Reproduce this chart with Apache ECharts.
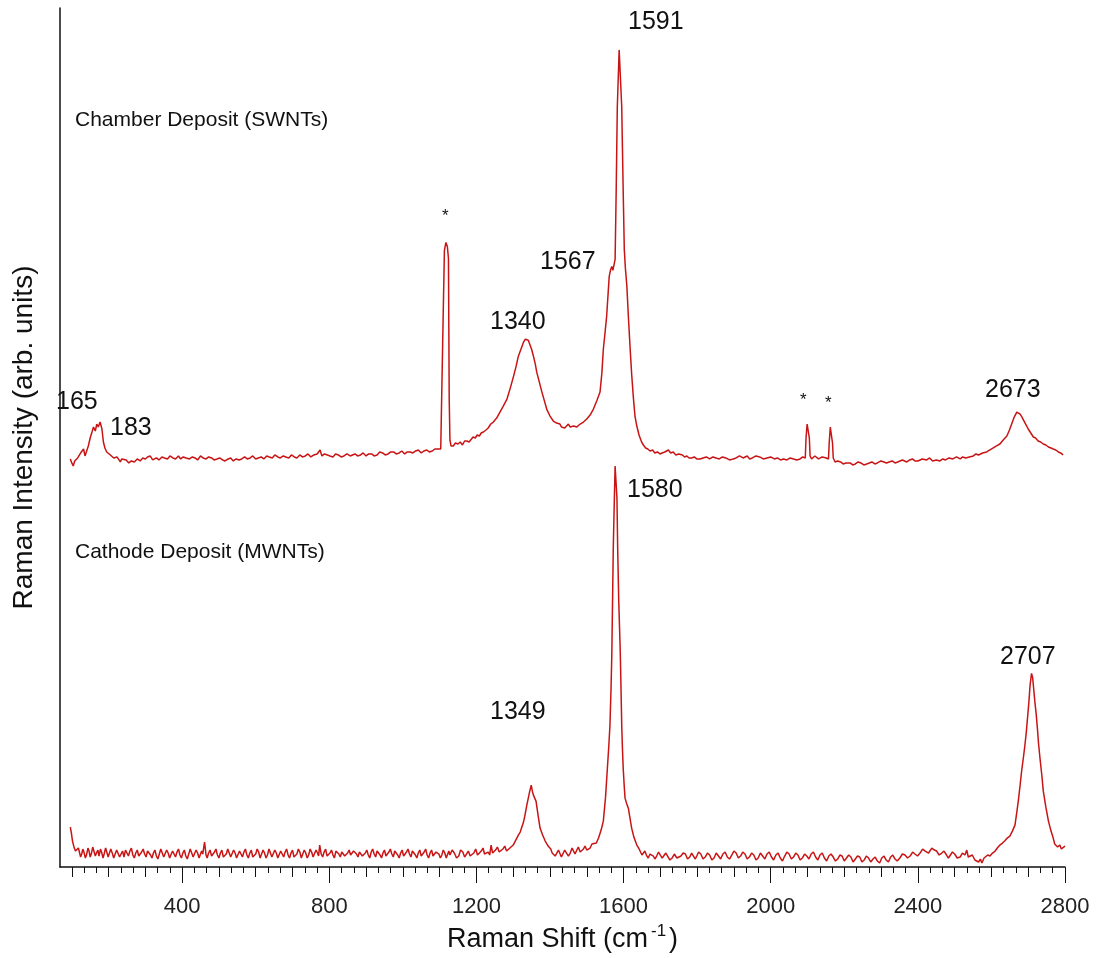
<!DOCTYPE html>
<html>
<head>
<meta charset="utf-8">
<title>Raman spectra - chamber vs cathode deposit</title>
<script src="https://cdn.jsdelivr.net/npm/echarts@6/dist/echarts.min.js"></script>
<style>
html, body { margin: 0; padding: 0; background: #fff; }
#chart { width: 1097px; height: 958px; }
</style>
</head>
<body>
<div id="chart"></div>
<script>
// x range of the shift axis (cm-1)
var xMin = 68;
var xMax = 2800;
var majorTicks = [400, 800, 1200, 1600, 2000, 2400, 2800];

// Chamber deposit (SWNTs), offset upward; [shift, intensity]
var swntData = [
  [96,409],[100,405],[104,402],[108,407],[112,405],[116,410],[120,412],[126,416],[132,419],[136,412],[141,414],[145,422],[150,430],[155,436],[159,441],[164,437],[168,444],[172,441],[177,446],[182,439],[186,426],[190,420],[195,416],[200,417],[205,413],[210,414],[214,410],[218,412],[223,411],[228,409],[232,406],[236,409],[240,407],[248,408],[255,405],[262,407],[270,406],[278,409],[286,407],[293,410],[300,409],[306,411],[313,412],[320,408],[330,410],[337,408],[345,411],[352,410],[360,409],[367,412],[375,410],[382,409],[390,412],[396,409],[403,411],[411,410],[420,409],[428,411],[435,410],[442,408],[450,412],[457,410],[465,409],[472,411],[480,410],[487,408],[495,409],[502,410],[510,408],[517,407],[525,409],[532,410],[539,407],[547,409],[555,408],[562,409],[570,411],[577,409],[585,410],[592,412],[600,409],[607,410],[615,411],[622,409],[630,412],[637,411],[645,410],[652,413],[660,411],[667,410],[675,412],[682,411],[690,410],[697,413],[705,411],[712,410],[720,413],[727,411],[735,412],[742,414],[750,411],[758,413],[767,414],[771,412],[775,418],[780,412],[787,414],[795,413],[802,412],[810,411],[817,414],[825,413],[832,411],[840,412],[848,414],[857,412],[863,413],[870,414],[877,412],[885,413],[892,415],[900,412],[907,414],[915,414],[922,412],[930,413],[937,416],[945,415],[952,413],[960,414],[967,416],[975,416],[982,414],[990,415],[997,417],[1005,414],[1012,416],[1020,416],[1027,415],[1035,417],[1042,418],[1050,415],[1057,417],[1065,418],[1072,416],[1080,417],[1087,419],[1095,419],[1103,419],[1108,421],
  [1110,560],[1113,618],[1117,626],[1121,622],[1124,610],[1126,470],[1128,428],[1131,422],[1137,422],[1143,425],[1150,424],[1156,426],[1162,423],[1168,427],[1174,427],[1180,426],[1185,428],[1191,431],[1197,430],[1202,433],[1208,432],[1213,435],[1219,436],[1226,438],[1232,440],[1239,444],[1246,446],[1255,450],[1264,456],[1273,462],[1283,469],[1292,480],[1301,492],[1308,502],[1314,512],[1321,519],[1328,526],[1333,529],[1337,529],[1341,528],[1346,526],[1350,519],[1355,512],[1360,504],[1364,496],[1371,486],[1378,476],[1385,467],[1391,459],[1400,452],[1409,447],[1418,445],[1427,444],[1431,441],[1436,443],[1440,440],[1445,442],[1450,444],[1455,441],[1460,439],[1464,442],[1468,440],[1473,441],[1478,443],[1482,444],[1491,446],[1500,449],[1509,453],[1518,459],[1527,467],[1536,476],[1541,495],[1545,519],[1550,537],[1554,552],[1558,575],[1561,592],[1565,599],[1568,602],[1571,598],[1574,596],[1577,609],[1580,679],[1583,762],[1588,819],[1592,819],[1595,762],[1599,677],[1602,619],[1605,600],[1609,582],[1613,552],[1618,519],[1622,494],[1627,469],[1631,452],[1636,442],[1642,433],[1649,426],[1654,423],[1660,420],[1666,419],[1672,417],[1679,418],[1685,415],[1692,416],[1699,414],[1705,415],[1712,416],[1717,414],[1722,418],[1728,415],[1735,416],[1742,413],[1750,414],[1755,412],[1760,413],[1766,411],[1772,412],[1778,410],[1785,410],[1792,411],[1799,409],
  [1808,409],[1816,410],[1825,411],[1834,409],[1843,411],[1851,410],[1860,409],[1869,411],[1878,410],[1888,408],[1898,409],[1906,410],[1915,412],[1925,410],[1936,412],[1943,409],[1950,410],[1960,412],[1970,411],[1980,409],[1990,410],[2000,411],[2010,409],[2018,410],[2027,408],[2035,409],[2044,408],[2053,410],[2062,409],[2071,408],[2080,409],[2087,411],[2094,410],[2096,430],[2099,444],[2102,443],[2105,430],[2107,412],[2111,409],[2115,410],[2120,412],[2125,411],[2130,409],[2134,410],[2140,411],[2145,409],[2151,410],[2157,409],[2159,425],[2162,441],[2165,439],[2168,425],[2170,410],[2175,406],[2182,407],[2190,406],[2197,404],[2205,405],[2210,407],[2216,405],[2223,403],[2230,404],[2238,406],[2245,405],[2253,403],[2261,404],[2268,405],[2275,406],[2283,404],[2290,405],[2300,407],[2315,405],[2322,406],[2330,407],[2338,405],[2345,406],[2358,408],[2370,406],[2378,408],[2385,409],[2392,407],[2400,407],[2412,409],[2424,408],[2432,410],[2440,407],[2450,408],[2460,407],[2468,409],[2475,408],[2485,410],[2495,409],[2505,411],[2515,409],[2522,411],[2530,410],[2540,411],[2551,412],[2558,414],[2565,413],[2576,415],[2587,416],[2596,418],[2605,420],[2614,422],[2623,424],[2632,428],[2642,432],[2649,438],[2655,444],[2662,451],[2669,456],[2674,456],[2678,454],[2683,451],[2687,449],[2693,444],[2700,439],[2707,435],[2714,431],[2720,430],[2727,427],[2734,426],[2741,424],[2748,423],[2755,421],[2762,420],[2768,419],[2775,418],[2782,416],[2788,415],[2795,413]
];

// Cathode deposit (MWNTs); [shift, intensity]
var mwntData = [
  [96,40],[99,34],[102,26],[106,20],[110,16],[115,14],[118,19],[121,17],[124,10],[127,13],[130,18],[133,15],[137,9],[140,12],[144,19],[147,16],[150,10],[153,13],[157,20],[160,18],[164,11],[167,14],[171,17],[174,11],[178,18],[181,15],[185,9],[188,13],[192,19],[195,17],[199,10],[202,12],[206,18],[210,14],[214,9],[218,11],[222,17],[226,15],[230,10],[234,13],[238,16],[242,10],[246,17],[250,14],[254,11],[258,16],[262,19],[266,12],[270,9],[274,14],[278,17],[282,11],[286,9],[290,15],[294,18],[298,13],[302,10],[306,16],[310,18],[314,12],[318,9],[322,14],[326,17],[330,11],[334,8],[338,13],[342,18],[346,16],[350,10],[354,12],[358,17],[362,14],[366,9],[370,10],[374,16],[378,13],[382,10],[386,15],[390,18],[394,12],[398,9],[402,14],[406,17],[410,11],[414,8],[418,13],[422,18],[426,16],[430,10],[434,12],[438,17],[442,14],[446,9],[450,11],[453,16],[456,13],[461,25],[465,12],[468,9],[472,14],[476,17],[480,11],[484,9],[488,15],[492,18],[496,12],[500,9],[504,14],[508,17],[512,10],[516,8],[520,13],[524,18],[528,16],[532,10],[536,12],[540,17],[544,14],[548,9],[552,11],[556,16],[560,13],[564,10],[568,15],[572,18],[576,12],[580,9],[584,14],[588,17],[592,10],[596,8],[600,13],[604,18],[608,15],[612,9],[616,11],[620,17],[624,14],[628,9],[632,12],[636,18],[640,16],[644,10],[648,12],[652,17],[656,14],[660,9],[664,11],[668,16],[672,13],[676,10],[680,15],[684,18],[688,12],[692,9],[696,14],[700,17],[704,10],[708,8],[712,13],[716,18],[720,15],[724,9],[728,11],[732,17],[736,14],[740,9],[744,12],[748,18],[752,15],[756,10],[760,12],[764,17],[768,14],[771,11],[774,22],[778,13],[782,10],[786,15],[790,18],[794,11],[798,9],[802,14],[806,17],[810,12],[814,9],[818,16],[822,18],[826,13],[830,10],[834,15],[838,17],[842,11],[846,9],[850,14],[854,17],[858,12],[862,10],[866,16],[870,18],[874,13],[878,10],[882,15],[886,17],[890,11],[894,9],[898,14],[902,17],[906,12],[910,9],[914,15],[918,18],[922,13],[926,10],[930,16],[934,18],[938,12],[942,9],[946,14],[950,17],[954,11],[958,9],[962,15],[966,18],[970,13],[974,10],[978,16],[982,18],[986,12],[990,9],[994,14],[998,17],[1002,11],[1006,9],[1010,15],[1014,18],[1018,13],[1022,10],[1026,16],[1030,18],[1034,12],[1038,9],[1042,14],[1046,17],[1050,11],[1054,9],[1058,15],[1062,18],[1066,12],[1070,9],[1074,14],[1078,17],[1082,11],[1086,9],[1090,15],[1094,17],[1098,13],[1102,9],[1106,12],[1110,17],[1114,14],[1118,9],[1121,11],[1125,16],[1128,12],[1134,17],[1140,14],[1146,9],[1152,11],[1157,17],[1163,15],[1168,10],[1173,12],[1178,16],[1183,11],[1188,9],[1193,14],[1198,18],[1203,12],[1208,10],[1213,16],[1218,19],[1222,13],[1227,11],[1232,15],[1236,12],[1240,22],[1244,14],[1248,12],[1252,17],[1257,20],[1262,15],[1267,13],[1272,18],[1277,21],[1282,16],[1286,14],[1291,19],
  [1300,22],[1307,27],[1314,32],[1319,35],[1323,36],[1328,45],[1332,52],[1337,62],[1341,69],[1345,76],[1349,82],[1352,76],[1355,72],[1358,73],[1362,66],[1366,56],[1370,46],[1373,39],[1380,32],[1387,26],[1395,21],[1402,18],[1406,14],[1409,16],[1414,11],[1418,13],[1423,17],[1427,15],[1431,10],[1436,12],[1440,17],[1445,16],[1450,11],[1455,14],[1460,19],[1464,18],[1468,13],[1473,17],[1477,20],[1482,15],[1486,13],[1491,18],[1495,21],[1500,17],[1505,15],[1509,19],[1514,23],[1518,21],[1526,24],[1532,29],[1539,37],[1545,46],[1551,70],[1556,99],[1560,122],[1563,142],[1566,180],[1568,212],[1570,265],[1572,319],[1575,370],[1577,402],[1580,402],[1582,370],[1584,319],[1587,265],[1591,216],[1593,180],[1595,142],[1597,118],[1599,99],[1602,80],[1604,69],[1608,64],[1613,59],[1617,50],[1622,39],[1628,30],[1636,22],[1641,19],[1645,17],[1650,12],[1654,14],[1658,16],[1662,12],[1667,9],[1672,13],[1676,15],[1681,11],[1685,8],[1690,11],[1695,15],[1700,13],[1705,9],[1710,10],[1715,14],[1720,12],[1726,7],[1732,9],[1738,13],[1745,9],[1750,7],[1756,11],[1762,14],[1768,13],[1774,8],[1780,10],[1785,14],[1790,12],[1795,8],[1799,11],
  [1804,15],[1810,13],[1816,8],[1822,10],[1828,14],[1834,12],[1840,7],[1846,9],[1852,14],[1858,11],[1864,8],[1870,13],[1876,15],[1882,10],[1888,8],[1894,12],[1900,16],[1906,14],[1912,9],[1918,11],[1924,15],[1930,13],[1936,8],[1942,10],[1948,14],[1954,12],[1960,7],[1966,9],[1972,14],[1978,11],[1984,8],[1990,13],[1996,15],[2002,10],[2008,7],[2014,12],[2020,14],[2026,9],[2032,6],[2038,11],[2044,15],[2050,13],[2056,8],[2062,10],[2068,14],[2074,12],[2080,7],[2086,9],[2092,13],[2098,11],[2104,8],[2110,13],[2116,15],[2122,10],[2128,7],[2134,12],[2140,14],[2146,9],[2152,6],[2158,11],[2164,13],[2170,10],[2176,6],[2182,8],[2188,12],[2194,11],[2200,6],[2206,9],[2212,12],[2218,10],[2224,5],[2230,8],[2236,11],[2242,10],[2248,5],[2254,7],[2260,11],[2266,9],[2272,5],[2278,8],[2284,10],[2290,6],[2296,4],[2302,9],[2308,11],[2314,7],[2320,5],[2326,10],[2332,12],[2338,8],[2344,6],[2351,9],[2358,13],[2365,12],[2372,9],[2379,11],[2386,15],[2392,13],[2399,11],[2406,14],[2413,18],[2420,16],[2429,14],[2438,19],[2445,17],[2451,16],[2458,12],[2465,14],[2471,16],[2478,12],[2483,9],[2487,11],[2494,15],[2500,13],[2507,9],[2515,10],[2521,14],[2528,12],[2533,17],[2537,10],[2542,9],[2548,12],[2555,7],[2560,9],[2565,5],[2570,8],[2574,4],[2580,9],[2585,8],[2590,12],[2596,11],[2603,14],[2610,16],[2616,19],[2623,22],[2630,24],[2636,26],[2643,29],[2650,31],[2657,36],[2664,42],[2669,55],[2673,66],[2678,82],[2682,96],[2687,110],[2691,122],[2695,136],[2698,149],[2702,166],[2705,182],[2709,194],[2712,190],[2714,189],[2718,166],[2722,152],[2725,139],[2728,124],[2732,109],[2737,92],[2741,76],[2748,60],[2755,46],[2762,36],[2768,29],[2772,23],[2775,25],[2780,20],[2786,22],[2790,18],[2793,20],[2800,21]
];

// medium ticks every 100, minor every 100/3
var midTicks = [];
var minorTicks = [];
for (var t = 100; t <= xMax; t += 100) {
  midTicks.push(t);
  if (t < xMax) {
    minorTicks.push(t + 100 / 3, t + 200 / 3);
  }
}

var FONT = '"Liberation Sans", Arial, sans-serif';

function label(s, x, y, size) {
  return {
    type: 'text',
    x: x,
    y: y,
    style: {
      text: s,
      fontFamily: FONT,
      fontSize: size,
      fill: '#111',
      verticalAlign: 'middle'
    },
    z: 100
  };
}

var chart = echarts.init(document.getElementById('chart'));

var baseAxis = {
  type: 'value',
  position: 'bottom',
  min: xMin,
  max: xMax,
  splitLine: { show: false },
  axisLine: { show: false },
  axisLabel: { show: false },
  axisTick: { show: true, inside: false, lineStyle: { color: '#111', width: 1 } }
};

var option = {
  animation: false,
  backgroundColor: '#fff',
  grid: { left: 60, right: 32, top: 8, bottom: 89, containLabel: false },
  xAxis: [
    {
      type: 'value',
      position: 'bottom',
      min: xMin,
      max: xMax,
      splitLine: { show: false },
      axisLine: { show: true, onZero: false, lineStyle: { color: '#111', width: 1.5 } },
      axisTick: { show: true, length: 16, customValues: majorTicks, lineStyle: { color: '#111', width: 1 } },
      axisLabel: {
        show: true,
        customValues: majorTicks,
        formatter: function (v) { return String(v); },
        margin: 29,
        color: '#222',
        fontFamily: FONT,
        fontSize: 22
      },
      name: 'Raman Shift (cm{sup|-1}{b|)}',
      nameLocation: 'middle',
      nameGap: 56,
      nameTextStyle: {
        color: '#111',
        fontFamily: FONT,
        fontSize: 27,
        rich: {
          sup: { fontFamily: FONT, fontSize: 17, color: '#111', verticalAlign: 'top', padding: [0, 3, 16, 3] },
          b: { fontFamily: FONT, fontSize: 27, color: '#111' }
        }
      }
    },
    Object.assign({}, baseAxis, {
      axisTick: { show: true, length: 10, customValues: midTicks, lineStyle: { color: '#111', width: 1 } }
    }),
    Object.assign({}, baseAxis, {
      axisTick: { show: true, length: 6, customValues: minorTicks, lineStyle: { color: '#111', width: 1 } }
    })
  ],
  yAxis: {
    type: 'value',
    min: 0,
    max: 861,
    splitLine: { show: false },
    axisLine: { show: true, onZero: false, lineStyle: { color: '#111', width: 1.5 } },
    axisTick: { show: false },
    axisLabel: { show: false },
    name: 'Raman Intensity (arb. units)',
    nameLocation: 'middle',
    nameRotate: 90,
    nameGap: 22,
    nameTextStyle: { color: '#111', fontFamily: FONT, fontSize: 28 }
  },
  series: [
    {
      name: 'Chamber Deposit (SWNTs)',
      type: 'line',
      data: swntData,
      showSymbol: false,
      symbol: 'none',
      lineStyle: { color: '#c81414', width: 1.5 }
    },
    {
      name: 'Cathode Deposit (MWNTs)',
      type: 'line',
      data: mwntData,
      showSymbol: false,
      symbol: 'none',
      lineStyle: { color: '#c81414', width: 1.5 }
    }
  ],
  graphic: [
    label('1591', 628, 22, 25),
    label('Chamber Deposit (SWNTs)', 75, 120, 21),
    label('*', 442, 216, 17),
    label('1567', 540, 262, 25),
    label('1340', 490, 322, 25),
    label('165', 56, 402, 25),
    label('183', 110, 428, 25),
    label('*', 800, 400, 17),
    label('*', 825, 403, 17),
    label('2673', 985, 390, 25),
    label('1580', 627, 490, 25),
    label('Cathode Deposit (MWNTs)', 75, 552, 21),
    label('2707', 1000, 657, 25),
    label('1349', 490, 712, 25)
  ]
};

chart.setOption(option);
</script>
</body>
</html>
